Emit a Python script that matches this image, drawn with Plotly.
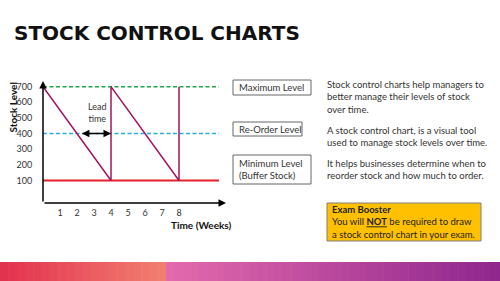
import plotly.graph_objects as go

# ---- data ----
weeks = [0, 4, 4, 8, 8]
stock = [700, 100, 700, 100, 700]
max_level = 700
reorder_level = 400
min_level = 100
level_end_week = 10.35
lead_start, lead_end = 2.2, 4
y_ticks = [100, 200, 300, 400, 500, 600, 700]
x_ticks = [1, 2, 3, 4, 5, 6, 7, 8]

W, H = 500, 281
FONT = "Lato"

def px(x):
    return x / W

def py(y):
    return 1 - y / H

fig = go.Figure()

fig.add_trace(go.Scatter(x=[0, level_end_week], y=[max_level, max_level], mode="lines",
                         line=dict(color="#1FA64A", width=1.5, dash="4px,2.5px"), hoverinfo="skip"))
fig.add_trace(go.Scatter(x=[0, level_end_week], y=[reorder_level, reorder_level], mode="lines",
                         line=dict(color="#29ABE2", width=1.5, dash="4px,2.5px"), hoverinfo="skip"))
fig.add_trace(go.Scatter(x=[0, level_end_week], y=[min_level, min_level], mode="lines",
                         line=dict(color="#E8202A", width=2), hoverinfo="skip"))
fig.add_trace(go.Scatter(x=weeks, y=stock, mode="lines",
                         line=dict(color="#A3145E", width=1.5), hoverinfo="skip"))

x_left, x_right = 43, 226
y_top, y_bot = 81, 203
xr = [0, (x_right - x_left) / 17.0]
yr = [-44, 736]

fig.update_layout(
    width=W, height=H, margin=dict(l=0, r=0, t=0, b=0),
    paper_bgcolor="white", plot_bgcolor="white", showlegend=False,
    xaxis=dict(domain=[px(x_left), px(x_right)], range=xr, tickvals=x_ticks,
               showgrid=False, zeroline=False, showline=False, automargin=False,
               ticks="outside", ticklen=1, tickcolor="rgba(0,0,0,0)",
               tickfont=dict(family=FONT, size=9, color="#333")),
    yaxis=dict(domain=[py(y_bot), py(y_top)], range=yr, tickvals=y_ticks,
               showgrid=False, zeroline=False, showline=False, automargin=False,
               ticks="outside", ticklen=8, tickcolor="rgba(0,0,0,0)",
               tickfont=dict(family=FONT, size=9, color="#333")),
)

anns = []
# axes with arrows
anns.append(dict(x=0, y=yr[1], ax=0, ay=yr[0], xref="x", yref="y", axref="x", ayref="y",
                 text="", showarrow=True, arrowhead=2, arrowsize=1, arrowwidth=1.5, arrowcolor="black"))
anns.append(dict(x=xr[1], y=yr[0], ax=0, ay=yr[0], xref="x", yref="y", axref="x", ayref="y",
                 text="", showarrow=True, arrowhead=2, arrowsize=1, arrowwidth=1.5, arrowcolor="black"))
# lead time arrow
anns.append(dict(x=lead_end, y=reorder_level, ax=lead_start, ay=reorder_level,
                 xref="x", yref="y", axref="x", ayref="y", text="", showarrow=True,
                 arrowhead=2, startarrowhead=2, arrowside="end+start", arrowsize=1,
                 arrowwidth=1.5, arrowcolor="black"))
anns.append(dict(x=3.2, y=533, xref="x", yref="y", text="Lead<br>time", showarrow=False,
                 xanchor="center", yanchor="middle",
                 font=dict(family=FONT, size=9, color="#333"), align="center"))

# title
anns.append(dict(x=px(12), y=py(33), xref="paper", yref="paper", xanchor="left", yanchor="middle",
                 text="<b>STOCK CONTROL CHARTS</b>", showarrow=False,
                 font=dict(family="DejaVu Sans", size=20, color="#111")))
# axis titles
anns.append(dict(x=px(12.5), y=py(108), xref="paper", yref="paper", textangle=-90,
                 xanchor="center", yanchor="middle",
                 text="<b>Stock Level</b>", showarrow=False, borderpad=0,
                 font=dict(family=FONT, size=10, color="#111")))
anns.append(dict(x=px(232), y=py(225), xref="paper", yref="paper", xanchor="right", yanchor="middle",
                 text="<b>Time (Weeks)</b>", showarrow=False, borderpad=0,
                 font=dict(family=FONT, size=10, color="#111")))

shapes = []
# legend-like boxes
boxes = [((233, 80, 311, 95), "Maximum Level"),
         ((233, 122, 302, 136), "Re-Order Level"),
         ((233, 155, 311, 184), "Minimum Level<br>(Buffer Stock)")]
for (x0, y0, x1, y1), t in boxes:
    shapes.append(dict(type="rect", xref="paper", yref="paper", x0=px(x0), x1=px(x1),
                       y0=py(y1), y1=py(y0), line=dict(color="#666", width=1), fillcolor="white"))
    anns.append(dict(x=px(x0 + 3.5), y=py((y0 + y1) / 2), xref="paper", yref="paper",
                     xanchor="left", yanchor="middle", text=t, showarrow=False, align="left",
                     font=dict(family=FONT, size=9.5, color="#333")))

paras = [(97, "Stock control charts help managers to<br>better manage their levels of stock<br>over time."),
         (136, "A stock control chart, is a visual tool<br>used to manage stock levels over time."),
         (169.5, "It helps businesses determine when to<br>reorder stock and how much to order.")]
for yc, t in paras:
    anns.append(dict(x=px(325), y=py(yc), xref="paper", yref="paper", xanchor="left", yanchor="middle",
                     text=t, showarrow=False, align="left",
                     font=dict(family=FONT, size=9.5, color="#333")))

# exam booster
shapes.append(dict(type="rect", xref="paper", yref="paper", x0=px(327), x1=px(481),
                   y0=py(241), y1=py(203), line=dict(color="#7f7f7f", width=1), fillcolor="#FFC000"))
anns.append(dict(x=px(330), y=py(222), xref="paper", yref="paper", xanchor="left", yanchor="middle",
                 text="<b>Exam Booster</b><br>You will <b><u>NOT</u></b> be required to draw<br>a stock control chart in your exam.",
                 showarrow=False, align="left", font=dict(family=FONT, size=9.5, color="#222")))

# bottom gradient band
def lerp(c0, c1, t):
    return "rgb(%d,%d,%d)" % tuple(round(a + (b - a) * t) for a, b in zip(c0, c1))

segs = [((0, 166), (227, 48, 79), (242, 128, 112), 20),
        ((166, 500), (228, 106, 172), (142, 38, 142), 40)]
for (xa, xb), c0, c1, n in segs:
    step = (xb - xa) / n
    for i in range(n):
        x0 = xa + i * step
        shapes.append(dict(type="rect", xref="paper", yref="paper", x0=px(x0), x1=px(x0 + step + 0.6),
                           y0=0, y1=py(262), line=dict(width=0),
                           fillcolor=lerp(c0, c1, (i + 0.5) / n), layer="above"))

fig.update_layout(annotations=anns, shapes=shapes)
fig.write_html("out.html")
